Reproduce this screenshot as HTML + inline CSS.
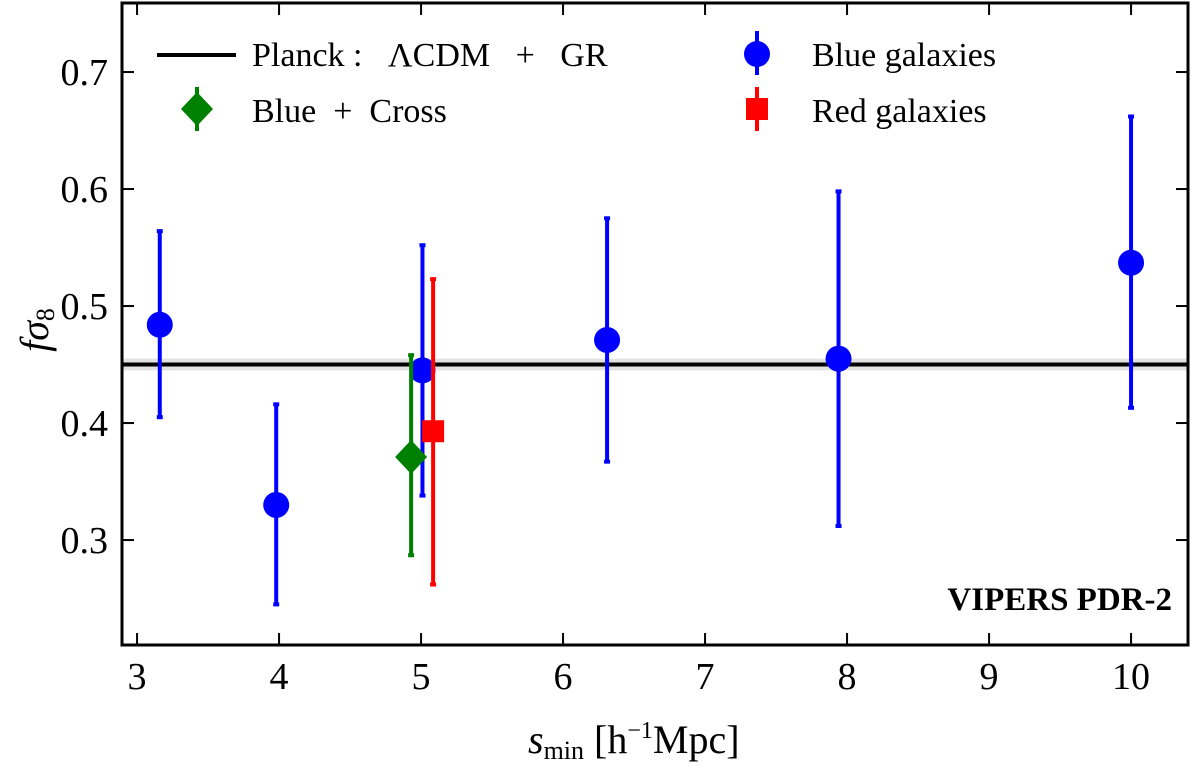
<!DOCTYPE html>
<html><head><meta charset="utf-8"><style>
html,body{margin:0;padding:0;background:#fff}
svg text{font-family:"Liberation Serif",serif;fill:#000}
</style></head><body>
<svg id="chart" width="1200" height="765" viewBox="0 0 1200 765"></svg>
<script>
const blueX=[3.16,3.98,5.01,6.31,7.94,10.0];
const blueY=[0.484,0.330,0.445,0.471,0.455,0.537];
const blueLo=[0.405,0.245,0.338,0.367,0.312,0.413];
const blueHi=[0.564,0.416,0.552,0.575,0.598,0.662];
const crossX=[4.93];const crossY=[0.371];const crossLo=[0.287];const crossHi=[0.458];
const redX=[5.085];const redY=[0.393];const redLo=[0.262];const redHi=[0.523];
const planck=[0.450];const planckErr=[0.005];
const xTicks=[3,4,5,6,7,8,9,10];
const yTicks=[0.3,0.4,0.5,0.6,0.7];

const L=122,R=1188,T=3,B=645;
const xmin=2.894,xmax=10.401,ymin=0.2103,ymax=0.759;
const sx=v=>L+(v-xmin)/(xmax-xmin)*(R-L);
const sy=v=>B-(v-ymin)/(ymax-ymin)*(B-T);
const svg=document.getElementById('chart');
const NS='http://www.w3.org/2000/svg';
function mk(tag,attrs,parent){const e=document.createElementNS(NS,tag);for(const k in attrs)e.setAttribute(k,attrs[k]);(parent||svg).appendChild(e);return e;}

let band=mk('rect',{x:L,y:sy(planck[0]+planckErr[0]),width:R-L,height:sy(planck[0]-planckErr[0])-sy(planck[0]+planckErr[0]),fill:'#e2e2e2'});


let pl=mk('line',{x1:L,x2:R,y1:sy(planck[0]),y2:sy(planck[0]),stroke:'#000','stroke-width':4});



function errbar(x,lo,hi,col,name){
  const g=mk('g',{});
  
  
  mk('line',{x1:sx(x),x2:sx(x),y1:sy(lo),y2:sy(hi),stroke:col,'stroke-width':4},g);
  mk('line',{x1:sx(x)-3,x2:sx(x)+3,y1:sy(lo),y2:sy(lo),stroke:col,'stroke-width':4},g);
  mk('line',{x1:sx(x)-3,x2:sx(x)+3,y1:sy(hi),y2:sy(hi),stroke:col,'stroke-width':4},g);
  return g;
}
blueX.forEach((x,i)=>{
  const g=errbar(x,blueLo[i],blueHi[i],'#0000ff','blue-point-'+i);
  mk('circle',{cx:sx(x),cy:sy(blueY[i]),r:13,fill:'#0000ff'},g);
});
crossX.forEach((x,i)=>{
  const g=errbar(x,crossLo[i],crossHi[i],'#008000','cross-point-'+i);
  const cx=sx(x),cy=sy(crossY[i]);
  mk('polygon',{points:`${cx},${cy-17} ${cx+16},${cy} ${cx},${cy+17} ${cx-16},${cy}`,fill:'#008000'},g);
});
redX.forEach((x,i)=>{
  const g=errbar(x,redLo[i],redHi[i],'#ff0000','red-point-'+i);
  mk('rect',{x:sx(x)-11,y:sy(redY[i])-11,width:22,height:22,fill:'#ff0000'},g);
});

let fr=mk('rect',{x:L,y:T,width:R-L,height:B-T,fill:'none',stroke:'#000','stroke-width':3});



xTicks.forEach(v=>{
  const x=sx(v);
  mk('line',{x1:x,x2:x,y1:B,y2:B-12,stroke:'#000','stroke-width':2});
  mk('line',{x1:x,x2:x,y1:T,y2:T+12,stroke:'#000','stroke-width':2});
  const t=mk('text',{x:x,y:B+44,'text-anchor':'middle','font-size':38});
  t.textContent=v;
  
  
});
yTicks.forEach(v=>{
  const y=sy(v);
  mk('line',{x1:L,x2:L+12,y1:y,y2:y,stroke:'#000','stroke-width':2});
  mk('line',{x1:R,x2:R-12,y1:y,y2:y,stroke:'#000','stroke-width':2});
  const t=mk('text',{x:L-14,y:y+13,'text-anchor':'end','font-size':38});
  t.textContent=v.toFixed(1);
  
  
});
</script>
<svg width="1200" height="765" style="position:absolute;left:0;top:0">
<text x="528" y="753" font-size="40" font-style="italic">s<tspan font-size="26" font-style="normal" dy="6">min</tspan><tspan font-style="normal" dy="-6"> [h</tspan><tspan font-style="normal" font-size="24" dy="-15">−1</tspan><tspan font-style="normal" dy="15">Mpc]</tspan></text>
<text transform="translate(48,330) rotate(-90)" text-anchor="middle" font-size="40" font-style="italic">fσ<tspan font-size="26" font-style="normal" dy="6">8</tspan></text>
<text x="1172" y="610" text-anchor="end" font-size="33" font-weight="bold">VIPERS PDR-2</text>
<g>
<line x1="157" x2="236" y1="55" y2="55" stroke="#000" stroke-width="4"/>
<text x="252" y="66" font-size="34" xml:space="preserve">Planck :   ΛCDM   +   GR</text>
<line x1="197" x2="197" y1="87" y2="131" stroke="#008000" stroke-width="4"/>
<polygon points="197,92 213,109 197,126 181,109" fill="#008000"/>
<text x="252" y="122" font-size="34" xml:space="preserve">Blue  +  Cross</text>
<line x1="757" x2="757" y1="31" y2="75" stroke="#0000ff" stroke-width="4"/>
<circle cx="757" cy="54" r="13" fill="#0000ff"/>
<text x="812" y="66" font-size="34">Blue galaxies</text>
<line x1="757" x2="757" y1="87" y2="131" stroke="#ff0000" stroke-width="4"/>
<rect x="746" y="98" width="22" height="22" fill="#ff0000"/>
<text x="812" y="122" font-size="34">Red galaxies</text>
</g>
</svg>
</body></html>
